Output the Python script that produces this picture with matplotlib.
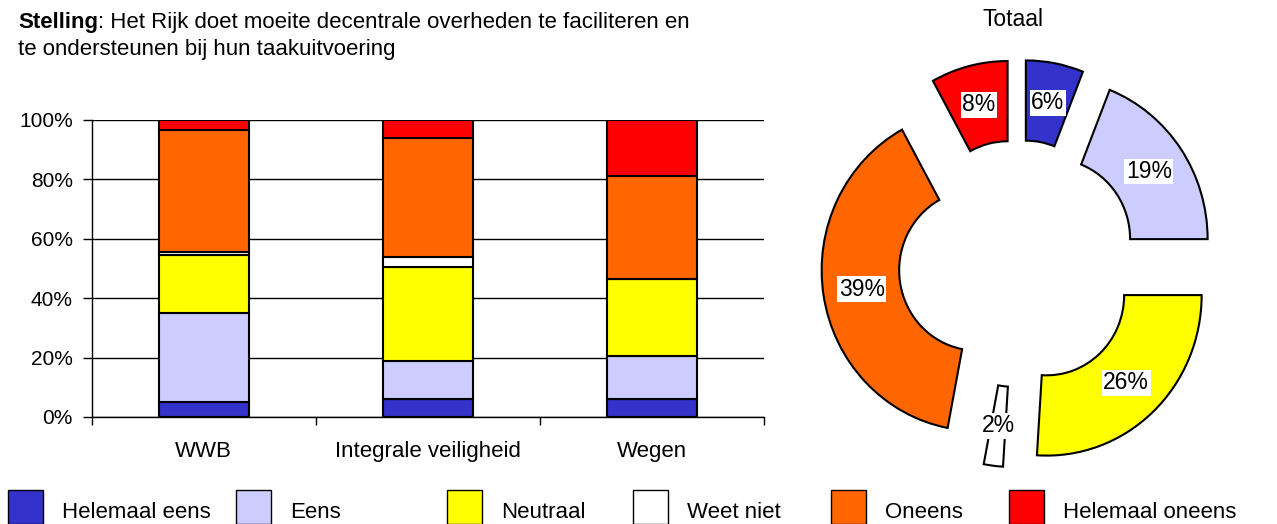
import matplotlib.pyplot as plt
from matplotlib.patches import Rectangle

plt.rcParams["font.family"] = ["Liberation Sans", "DejaVu Sans"]

categories = ["WWB", "Integrale veiligheid", "Wegen"]
answers = ["Helemaal eens", "Eens", "Neutraal", "Weet niet", "Oneens", "Helemaal oneens"]
colors = ["#3333CC", "#CCCCFF", "#FFFF00", "#FFFFFF", "#FF6600", "#FF0000"]

# percentages per category, one list per answer (bottom to top)
helemaal_eens = [5, 6, 6]
eens = [30, 13, 14.5]
neutraal = [19.5, 31.5, 26]
weet_niet = [1, 3.5, 0]
oneens = [41, 40, 34.5]
helemaal_oneens = [3.5, 6, 19]

totaal = [6, 19, 26, 2, 39, 8]

W, H = 1277, 524
fig = plt.figure(figsize=(W / 100, H / 100), dpi=100)

# -------------------------
# stacked bars
# -------------------------
ax = fig.add_axes([91.7 / W, 1 - 417 / H, (764 - 91.7) / W, (417 - 120) / H])
series = [helemaal_eens, eens, neutraal, weet_niet, oneens, helemaal_oneens]
x = list(range(len(categories)))
bottom = [0] * len(categories)
for vals, col in zip(series, colors):
    ax.bar(x, vals, width=0.4, bottom=bottom, color=col, edgecolor="black",
           linewidth=1.5, zorder=3)
    bottom = [b + v for b, v in zip(bottom, vals)]

ax.set_xlim(-0.5, 2.5)
ax.set_ylim(0, 100)
ax.set_yticks(range(0, 101, 20))
ax.set_yticklabels([f"{v}%" for v in range(0, 101, 20)], fontsize=15)
ax.yaxis.grid(True, color="black", linewidth=1)
ax.set_axisbelow(True)
ax.set_xticks(x)
ax.set_xticklabels(categories, fontsize=16)
ax.set_xticks([-0.5, 0.5, 1.5, 2.5], minor=True)
ax.tick_params(axis="x", which="major", length=0, pad=17)
ax.tick_params(axis="x", which="minor", length=6, width=1, direction="out")
ax.tick_params(axis="y", length=6.5, width=1, pad=7)
for s in ["top", "right"]:
    ax.spines[s].set_visible(False)
for s in ["left", "bottom"]:
    ax.spines[s].set_linewidth(1)

# title block: bold "Stelling" followed by the statement
t1 = fig.text(18 / W, 1 - 33 / H, "Stelling", fontsize=16, fontweight="bold", va="bottom")
ax.annotate(": Het Rijk doet moeite decentrale overheden te faciliteren en",
            xy=(1, 0), xycoords=t1, va="bottom", fontsize=16, annotation_clip=False)
fig.text(18 / W, 1 - 60 / H, "te ondersteunen bij hun taakuitvoering", fontsize=16, va="bottom")

# -------------------------
# donut
# -------------------------
cx, cy, R, Ry = 1018, 263.5, 155, 160.5
ax2 = fig.add_axes([(cx - 1.5 * R) / W, 1 - (cy + 1.5 * Ry) / H, 3 * R / W, 3 * Ry / H])
wedges, texts, autotexts = ax2.pie(
    totaal, colors=colors, startangle=90, counterclock=False,
    explode=[0.27] * len(totaal), radius=1, pctdistance=0.75,
    autopct=lambda p: f"{p:.0f}%",
    wedgeprops=dict(width=0.5, edgecolor="black", linewidth=1.5),
    textprops=dict(fontsize=16.5))
for t in autotexts:
    t.set_bbox(dict(facecolor="white", edgecolor="none", pad=1))
ax2.set_xlim(-1.5, 1.5)
ax2.set_ylim(-1.5, 1.5)
ax2.set_aspect("auto")
ax2.axis("off")
fig.text(1013 / W, 1 - 20 / H, "Totaal", fontsize=16.5, ha="center", va="center")

# -------------------------
# legend
# -------------------------
box_x = [8, 236, 447, 633, 831, 1009]
for bx, col, lab in zip(box_x, colors, answers):
    fig.patches.append(Rectangle((bx / W, 0), 35 / W, 34 / H, transform=fig.transFigure,
                                 facecolor=col, edgecolor="black", linewidth=1))
    fig.text((bx + 54) / W, 1 - 512 / H, lab, fontsize=16, va="center")

fig.savefig("out.png", dpi=100)
